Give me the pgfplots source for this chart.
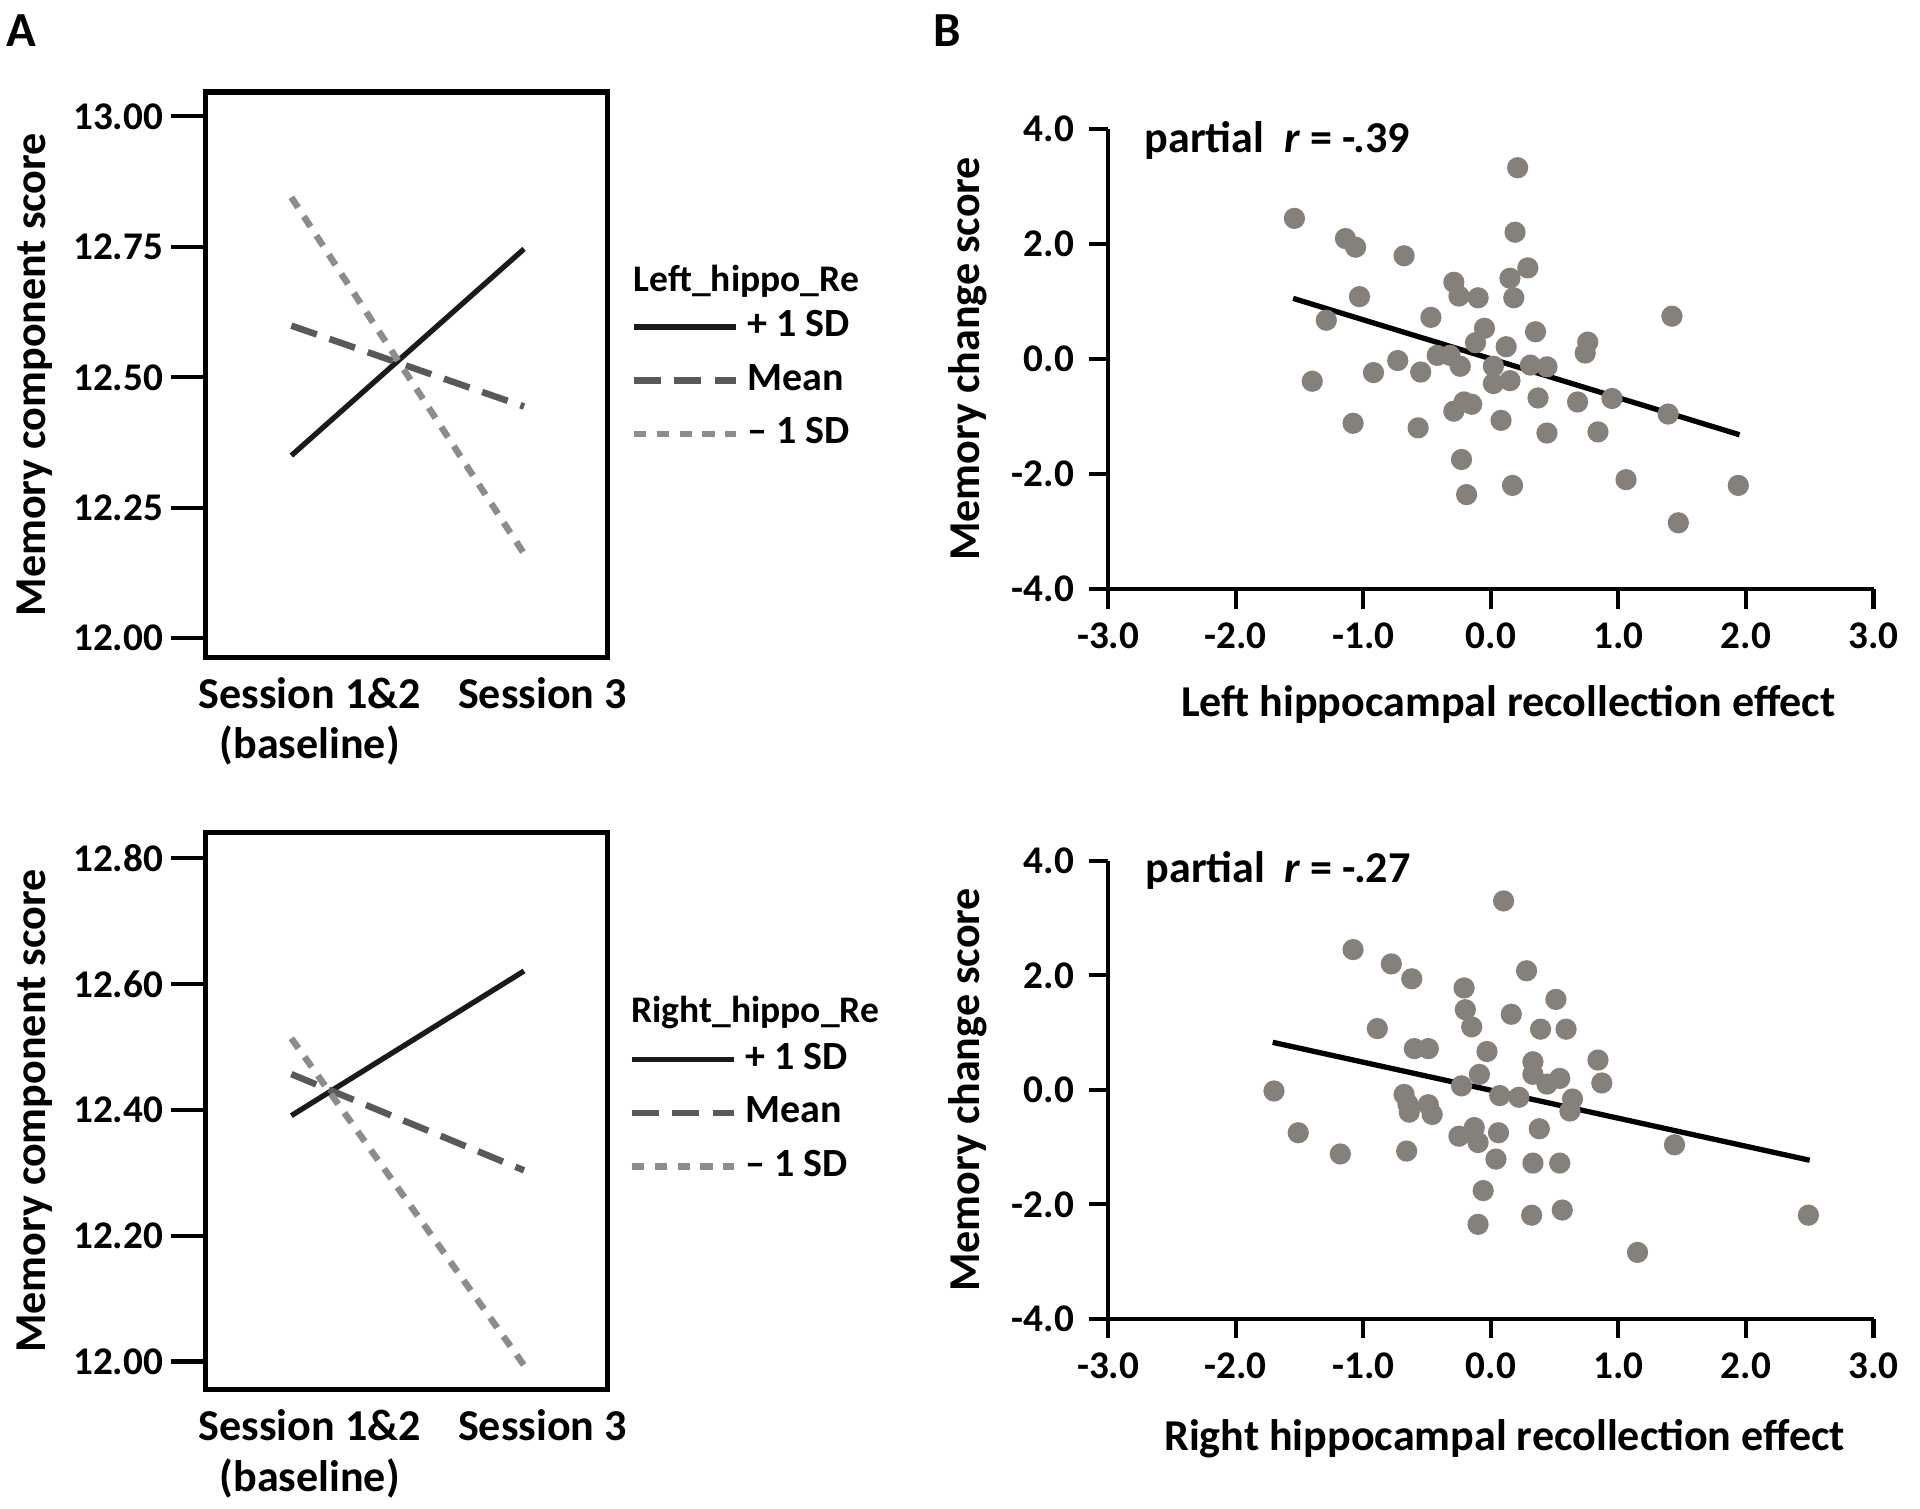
\documentclass[border=0pt]{standalone}
\usepackage{fontspec}
\setmainfont{Carlito}
\usepackage{pgfplots}
\pgfplotsset{compat=1.18}
\definecolor{cplus}{HTML}{1A1A1A}
\definecolor{cmean}{HTML}{595959}
\definecolor{cminus}{HTML}{8C8C8C}
\definecolor{cdot}{HTML}{86807B}
\pgfplotsset{
  linebox/.style={
    scale only axis, width=98.4pt,
    xmin=-0.368, xmax=1.358,
    axis line style={line width=1.3pt, black},
    xtick={0,1},
    xticklabels={{Session 1\&2\\(baseline)},{Session 3}},
    xticklabel style={align=center, font=\fontsize{10.8}{12.3}\selectfont\bfseries, xshift=4.5pt, yshift=7pt},
    xtick style={draw=none},
    ytick pos=left, tick align=outside,
    major tick length=8.4pt,
    ytick style={line width=1pt, black},
    yticklabel style={font=\fontsize{9.6}{11}\selectfont\bfseries, xshift=1.5pt},
    ylabel={Memory component score},
    ylabel style={at={(axis description cs:-0.427,0.5)}, anchor=center, font=\fontsize{10.8}{12}\selectfont\bfseries},
    legend image code/.code={\draw[##1] (0pt,0pt) -- (25pt,0pt);},
    legend cell align=left,
    clip=false,
  },
  scat/.style={
    scale only axis, width=187.5pt,
    xmin=-3, xmax=3, ymin=-4, ymax=4,
    axis lines*=left,
    axis line style={line width=1.1pt, black},
    tick align=outside, major tick length=4.8pt,
    tick style={line width=1pt, black},
    xtick={-3,-2,-1,0,1,2,3},
    xticklabels={-3.0,-2.0,-1.0,0.0,1.0,2.0,3.0},
    ytick={-4,-2,0,2,4},
    yticklabels={-4.0,-2.0,0.0,2.0,4.0},
    ticklabel style={font=\fontsize{9.6}{11}\selectfont\bfseries},
    ylabel={Memory change score},
    ylabel style={at={(axis description cs:-0.184,0.5)}, anchor=center, font=\fontsize{10.8}{12}\selectfont\bfseries},
    xlabel style={anchor=center, font=\fontsize{10.8}{12}\selectfont\bfseries},
    clip=false,
  },
}
\begin{document}
\begin{tikzpicture}
\useasboundingbox (0,0) rectangle (470.4pt,-369.6pt);
\node[anchor=west, inner sep=0pt, font=\fontsize{12}{14}\selectfont\bfseries] at (1.5pt,-7.5pt) {A};
\node[anchor=west, inner sep=0pt, font=\fontsize{12}{14}\selectfont\bfseries] at (228.5pt,-7.5pt) {B};

% ---- top-left
\begin{axis}[linebox, at={(50.4pt,-161.1pt)}, anchor=south west, height=138.6pt,
  ymin=11.963, ymax=13.047,
  ytick={12,12.25,12.5,12.75,13},
  yticklabels={12.00,12.25,12.50,12.75,13.00},
  legend style={at={(1,0.49)}, anchor=west, xshift=2.5pt, draw=none, fill=none,
    font=\fontsize{9.8}{12}\selectfont\bfseries, row sep=1.2pt}]
\addplot[cplus, line width=1.3pt] coordinates {(0,12.35) (1,12.746)};
\addlegendentry{+ 1 SD}
\addplot[cmean, line width=1.6pt, dash pattern=on 6.6pt off 3.3pt] coordinates {(0,12.599) (1,12.444)};
\addlegendentry{Mean}
\addplot[cminus, line width=1.6pt, dash pattern=on 3pt off 2.6pt] coordinates {(0,12.845) (1,12.162)};
\addlegendentry{-- 1 SD}
\end{axis}
\node[anchor=west, font=\fontsize{9.2}{12}\selectfont\bfseries, inner sep=0pt] at (155.1pt,-69pt) {Left\_hippo\_Re};

% ---- bottom-left
\begin{axis}[linebox, at={(50.4pt,-340.5pt)}, anchor=south west, height=136.5pt,
  ymin=11.955, ymax=12.841,
  ytick={12,12.2,12.4,12.6,12.8},
  yticklabels={12.00,12.20,12.40,12.60,12.80},
  legend style={at={(1,0.497)}, anchor=west, xshift=2pt, draw=none, fill=none,
    font=\fontsize{9.8}{12}\selectfont\bfseries, row sep=1.2pt}]
\addplot[cplus, line width=1.3pt] coordinates {(0,12.391) (1,12.621)};
\addlegendentry{+ 1 SD}
\addplot[cmean, line width=1.6pt, dash pattern=on 6.6pt off 3.3pt] coordinates {(0,12.457) (1,12.304)};
\addlegendentry{Mean}
\addplot[cminus, line width=1.6pt, dash pattern=on 3pt off 2.6pt] coordinates {(0,12.514) (1,11.994)};
\addlegendentry{-- 1 SD}
\end{axis}
\node[anchor=west, font=\fontsize{9.2}{12}\selectfont\bfseries, inner sep=0pt] at (154.5pt,-248.1pt) {Right\_hippo\_Re};

% ---- top-right
\begin{axis}[scat, at={(271.5pt,-144.3pt)}, anchor=south west, height=112.8pt,
  xlabel={Left hippocampal recollection effect},
  xlabel style={at={(axis description cs:0.523,-0.25)}}]
\addplot[only marks, mark=*, mark size=2.4pt, cdot, mark options={draw=cdot, fill=cdot}] coordinates {
(0.21,3.32) (-1.54,2.44) (-1.14,2.09) (-1.06,1.94) (-0.68,1.79) (0.19,2.20)
(0.29,1.58) (0.15,1.40) (-0.29,1.33) (-0.25,1.09) (-0.10,1.06) (0.18,1.06)
(-1.03,1.08) (-1.29,0.67) (-0.47,0.72) (1.42,0.74) (-0.05,0.53) (0.35,0.47)
(-0.12,0.28) (0.12,0.21) (0.76,0.29) (0.74,0.10) (-0.42,0.06) (-0.32,0.06)
(-0.73,-0.03) (-0.24,-0.13) (0.02,-0.13) (0.31,-0.11) (0.44,-0.14) (-1.40,-0.39)
(-0.92,-0.24) (-0.55,-0.23) (0.02,-0.43) (0.15,-0.38) (0.37,-0.68) (0.68,-0.75)
(0.95,-0.69) (-0.21,-0.75) (-0.29,-0.91) (-0.15,-0.79) (1.39,-0.96) (-1.08,-1.12)
(-0.57,-1.20) (0.08,-1.07) (0.44,-1.29) (0.84,-1.27) (-0.23,-1.75) (1.06,-2.10)
(1.94,-2.20) (0.17,-2.20) (-0.19,-2.36) (1.47,-2.85)
};
\addplot[black, line width=1.3pt] coordinates {(-1.55,1.05) (1.95,-1.32)};
\node[anchor=west, font=\fontsize{10.8}{12}\selectfont\bfseries] at (rel axis cs:0.029,0.975) {partial\ \ \textit{r} = -.39};
\end{axis}

% ---- bottom-right
\begin{axis}[scat, at={(271.5pt,-323.1pt)}, anchor=south west, height=112.2pt,
  xlabel={Right hippocampal recollection effect},
  xlabel style={at={(axis description cs:0.518,-0.262)}}]
\addplot[only marks, mark=*, mark size=2.4pt, cdot, mark options={draw=cdot, fill=cdot}] coordinates {
(0.10,3.30) (-1.08,2.45) (-0.78,2.20) (-0.62,1.94) (0.28,2.08) (-0.21,1.78)
(0.51,1.58) (-0.20,1.40) (0.16,1.32) (-0.15,1.10) (0.39,1.06) (0.59,1.06)
(-0.89,1.07) (-0.60,0.72) (-0.49,0.72) (-0.03,0.67) (0.84,0.52) (0.33,0.49)
(-0.09,0.27) (0.33,0.27) (0.54,0.20) (0.44,0.10) (0.87,0.12) (-0.23,0.07)
(-1.70,-0.02) (-0.68,-0.08) (0.07,-0.10) (0.22,-0.13) (0.64,-0.16) (-0.65,-0.25)
(-0.49,-0.26) (-0.64,-0.39) (-0.46,-0.43) (0.62,-0.37) (-1.51,-0.75) (-0.25,-0.81)
(-0.13,-0.66) (0.06,-0.75) (0.38,-0.68) (-0.10,-0.92) (1.44,-0.96) (-1.18,-1.12)
(-0.66,-1.07) (0.04,-1.21) (0.33,-1.28) (0.54,-1.28) (-0.06,-1.76) (0.56,-2.10)
(0.32,-2.19) (-0.10,-2.35) (2.49,-2.19) (1.15,-2.84)
};
\addplot[black, line width=1.3pt] coordinates {(-1.71,0.83) (2.50,-1.23)};
\node[anchor=west, font=\fontsize{10.8}{12}\selectfont\bfseries] at (rel axis cs:0.03,0.98) {partial\ \ \textit{r} = -.27};
\end{axis}
\end{tikzpicture}
\end{document}
